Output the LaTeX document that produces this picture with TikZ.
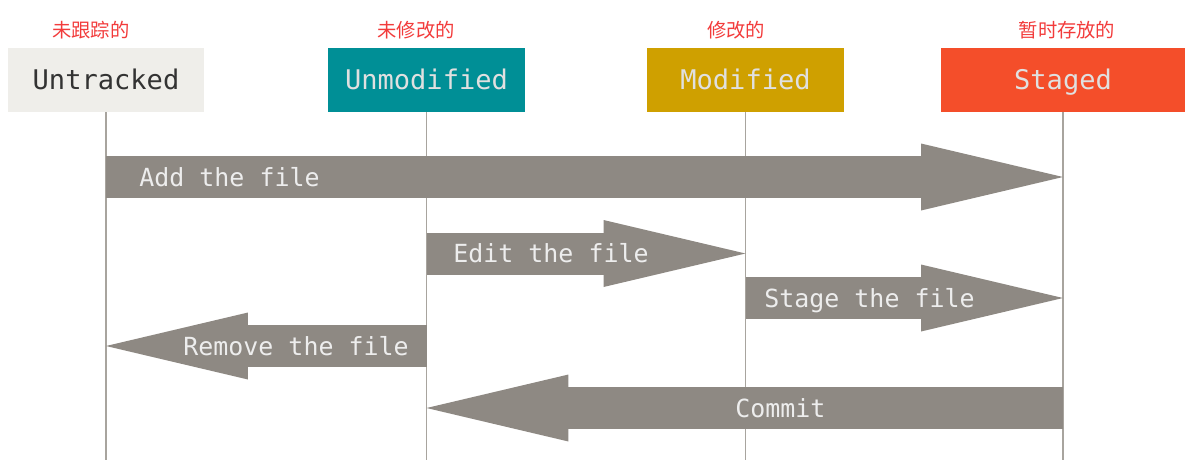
\documentclass[tikz,border=0pt]{standalone}
\usepackage{fontspec}
\setmonofont{DejaVu Sans Mono}
\newfontfamily\cjk{Noto Sans CJK SC}
\usepackage{tikz}
\usetikzlibrary{arrows.meta, positioning, calc}

\definecolor{trackgray}{HTML}{EFEEEA}
\definecolor{gitteal}{HTML}{008F96}
\definecolor{gitgold}{HTML}{CFA000}
\definecolor{gitred}{HTML}{F44E2A}
\definecolor{arrowgray}{HTML}{8E8983}
\definecolor{linegray}{HTML}{A8A49E}
\definecolor{cnred}{HTML}{F23B3B}

\begin{document}
\begin{tikzpicture}[x=0.02cm, y=-0.02cm,
  state/.style={rectangle, minimum width=3.94cm, minimum height=1.28cm, inner sep=0pt,
    font=\ttfamily\fontsize{15.4}{18}\selectfont, text height=11.2pt, text depth=0pt, text=white!88!black},
  cnlabel/.style={font=\cjk\fontsize{11}{13}\selectfont, text=cnred, inner sep=0pt},
  lifeline/.style={draw=linegray, line width=1.1pt},
  bigarrow/.style={draw=arrowgray, line width=0.84cm, -{Triangle[length=2.84cm, width=1.34cm, line width=0pt]}},
  arrowtext/.style={font=\ttfamily\fontsize{14.2}{17}\selectfont, text height=10.35pt, text depth=0pt,
    text=white!93!black, inner sep=0pt, anchor=west}]
\useasboundingbox (0,0) rectangle (1191,471);

% File states
\node[state, fill=trackgray, text=black!80] (untracked) at (106,80) {Untracked};
\node[state, fill=gitteal] (unmodified) at (426.5,80) {Unmodified};
\node[state, fill=gitgold] (modified) at (745.5,80) {Modified};
\node[state, fill=gitred, minimum width=4.88cm] (staged) at (1063,80) {Staged};

\node[cnlabel] (untracked-cn) at (91,30) {未跟踪的};
\node[cnlabel] (unmodified-cn) at (416,30) {未修改的};
\node[cnlabel] (modified-cn) at (736,30) {修改的};
\node[cnlabel] (staged-cn) at (1067,30) {暂时存放的};

% Lifelines
\draw[lifeline] (untracked.south) -- (untracked |- 0,460);
\draw[lifeline] (unmodified.south) -- (unmodified |- 0,460);
\draw[lifeline] (modified.south) -- (modified |- 0,460);
\draw[lifeline] (staged.south) -- (staged |- 0,460);

% Transitions
\draw[bigarrow] (untracked |- 0,177) -- (staged |- 0,177);
\draw[bigarrow] (unmodified |- 0,253.5) -- (modified |- 0,253.5);
\draw[bigarrow] (modified |- 0,298) -- (staged |- 0,298);
\draw[bigarrow] (unmodified |- 0,346) -- (untracked |- 0,346);
\draw[bigarrow] (staged |- 0,408) -- (unmodified |- 0,408);

\node[arrowtext] (addlabel) at (139,177) {Add the file};
\node[arrowtext] (editlabel) at (453,253.5) {Edit the file};
\node[arrowtext] (stagelabel) at (764,298) {Stage the file};
\node[arrowtext] (removelabel) at (183,346) {Remove the file};
\node[arrowtext] (commitlabel) at (735,408) {Commit};
\end{tikzpicture}
\end{document}
